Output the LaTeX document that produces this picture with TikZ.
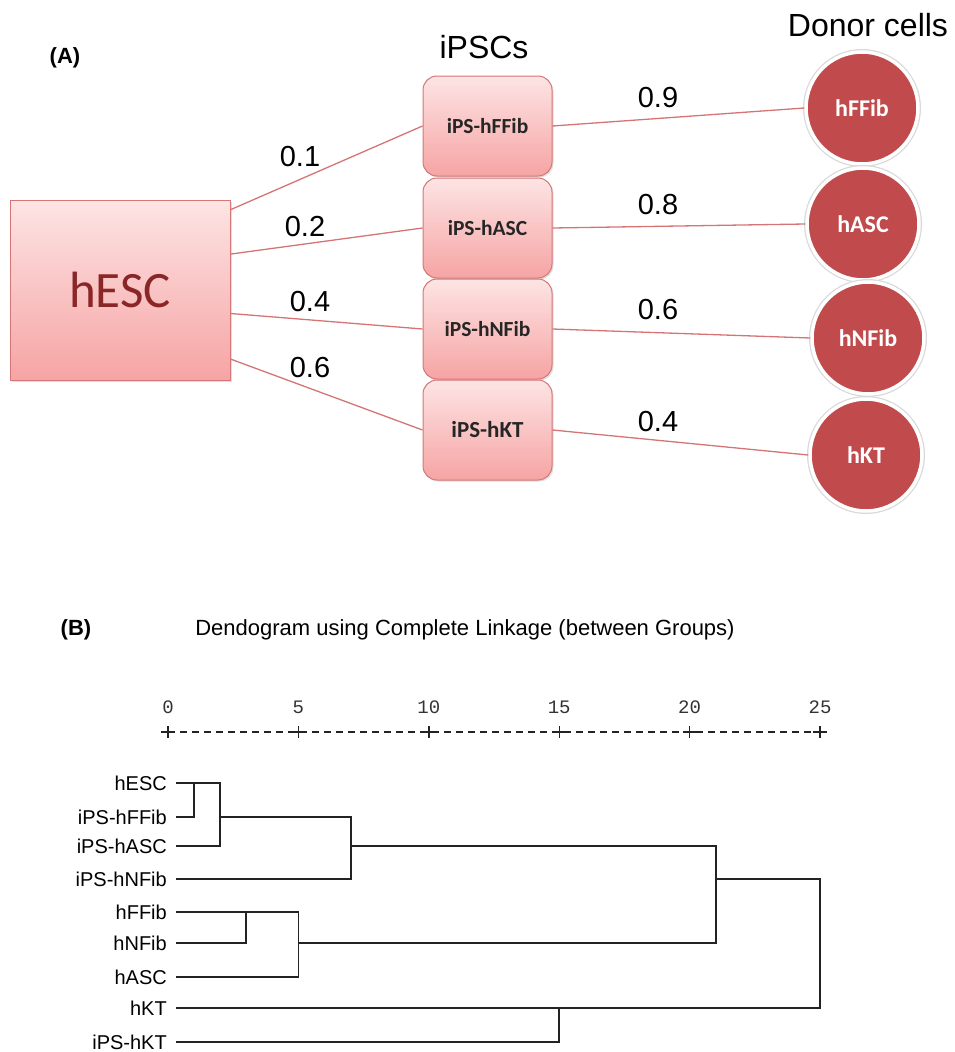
\documentclass[tikz,border=0pt]{standalone}
\usepackage{fontspec}
\setmainfont{Liberation Sans}
\newfontfamily\calfont{Carlito}
\newfontfamily\axfont{Liberation Mono}
\usetikzlibrary{shadows}

\definecolor{boxtop}{RGB}{253,228,228}
\definecolor{boxbot}{RGB}{246,164,164}
\definecolor{boxline}{RGB}{214,118,118}
\definecolor{linkred}{RGB}{212,116,116}
\definecolor{cellred}{RGB}{192,74,76}
\definecolor{escred}{RGB}{138,38,40}
\definecolor{treegray}{RGB}{35,35,35}

\tikzset{
  softshadow/.style={drop shadow={opacity=0.25, shadow xshift=1.5pt, shadow yshift=-1.5pt}},
  escbox/.style={draw=boxline, line width=1pt, top color=boxtop, bottom color=boxbot,
    minimum width=220pt, minimum height=180pt, inner sep=0pt, softshadow,
    font=\calfont\fontsize{51}{60}\selectfont, text=escred},
  ipsbox/.style={draw=boxline, line width=1pt, rounded corners=14pt, top color=boxtop,
    bottom color=boxbot, minimum width=129pt, minimum height=100pt, inner sep=0pt,
    softshadow, font=\calfont\bfseries\fontsize{21.5}{25}\selectfont, text=black!85},
  cell/.style={circle, draw=white, line width=3.5pt, fill=cellred, minimum size=112pt,
    inner sep=0pt, softshadow, preaction={draw=black!15, line width=6pt},
    text=white, font=\calfont\bfseries\fontsize{24}{28}\selectfont},
  link/.style={draw=linkred, line width=1.3pt},
  wt/.style={font=\fontsize{29}{33}\selectfont},
  head/.style={font=\fontsize{32}{36}\selectfont},
  panel/.style={font=\bfseries\fontsize{22}{26}\selectfont},
  leaf/.style={anchor=east, inner sep=0pt, font=\fontsize{20}{24}\selectfont},
  tick/.style={font=\axfont\fontsize{19}{22}\selectfont, text=black!80},
  tree/.style={draw=treegray, line width=1.8pt},
  axis/.style={draw=treegray, line width=1.4pt},
}

\begin{document}
\begin{tikzpicture}[x=1pt, y=-1pt]
  \useasboundingbox (0,0) rectangle (955,1052);

  % (A) panel
  \node[panel] (pa) at (65,58) {(A)};
  \node[head] (hips) at (484,47) {iPSCs};
  \node[head] (hdon) at (868,25) {Donor cells};

  \node[escbox] (hESC) at (120,290) {hESC};

  \node[ipsbox] (ips1) at (487.5,126) {iPS-hFFib};
  \node[ipsbox] (ips2) at (487.5,228) {iPS-hASC};
  \node[ipsbox] (ips3) at (487.5,329) {iPS-hNFib};
  \node[ipsbox, font=\calfont\bfseries\fontsize{23}{27}\selectfont] (ips4) at (487.5,430) {iPS-hKT};

  \node[cell] (don1) at (862,108) {hFFib};
  \node[cell] (don2) at (863,224) {hASC};
  \node[cell] (don3) at (868,338) {hNFib};
  \node[cell] (don4) at (866,455) {hKT};

  \draw[link] (hESC.36) -- (ips1.west);
  \draw[link] (hESC.18) -- (ips2.west);
  \draw[link] (hESC.-12) -- (ips3.west);
  \draw[link] (hESC.-32) -- (ips4.west);

  \draw[link] (ips1.east) -- (don1.west);
  \draw[link] (ips2.east) -- (don2.west);
  \draw[link] (ips3.east) -- (don3.west);
  \draw[link] (ips4.east) -- (don4.west);

  \node[wt] (w1) at (300,157) {0.1};
  \node[wt] (w2) at (305,227) {0.2};
  \node[wt] (w3) at (310,302) {0.4};
  \node[wt] (w4) at (310,368) {0.6};
  \node[wt] (v1) at (658,98) {0.9};
  \node[wt] (v2) at (658,205) {0.8};
  \node[wt] (v3) at (658,310) {0.6};
  \node[wt] (v4) at (658,422) {0.4};

  % (B) panel
  \node[panel] (pb) at (76,630) {(B)};
  \node[font=\fontsize{22}{26}\selectfont] (dtitle) at (465,630)
    {Dendogram using Complete Linkage (between Groups)};

  \draw[axis, dash pattern=on 7pt off 5pt] (168,732) -- (820,732);
  \foreach \k in {0,5,...,25} {
    \pgfmathsetmacro\xx{168+26.08*\k}
    \node[tick] (t\k) at (\xx,707) {\k};
    \draw[axis] (\xx-7,732) -- (\xx+7,732);
    \draw[axis] (\xx,726) -- (\xx,738);
  }

  \foreach \n/\t/\yy in {1/hESC/783, 2/iPS-hFFib/817, 3/iPS-hASC/846,
      4/iPS-hNFib/879, 5/hFFib/912, 6/hNFib/943, 7/hASC/977,
      8/hKT/1008, 9/iPS-hKT/1042} {
    \node[leaf] (lab\n) at (167,\yy) {\t};
    \coordinate (l\n) at (176,\yy);
  }

  \draw[tree] (l2) -| (194.1,783);
  \draw[tree] (l1) -| (220.2,846) -- (l3);
  \draw[tree] (220.2,817) -| (350.6,879) -- (l4);
  \draw[tree] (l6) -| (246.2,912);
  \draw[tree] (l5) -| (298.4,977) -- (l7);
  \draw[tree] (350.6,846) -| (715.7,943) -- (298.4,943);
  \draw[tree] (l9) -| (559.2,1008);
  \draw[tree] (l8) -| (820,879) -- (715.7,879);
\end{tikzpicture}
\end{document}
